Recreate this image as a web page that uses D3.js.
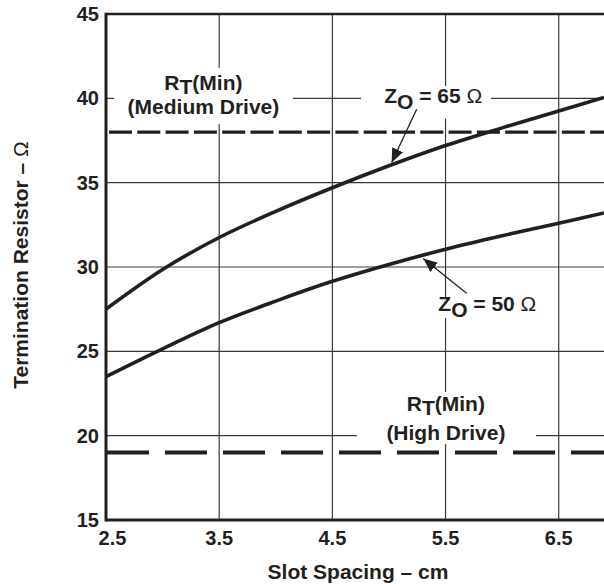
<!DOCTYPE html>
<html>
<head>
<meta charset="utf-8">
<script src="https://cdn.jsdelivr.net/npm/d3@7"></script>
<style>
  html, body { margin: 0; padding: 0; background: #fff; }
  svg { display: block; }
  text { font-family: "Liberation Sans", Arial, Helvetica, sans-serif; fill: #231f20; }
</style>
</head>
<body>
<svg id="chart" width="604" height="584"></svg>
<script>
// ---------- data ----------
const slotSpacing = [2.5, 3.0, 3.5, 4.0, 4.5, 5.0, 5.5, 6.0, 6.5, 6.9];
const z65Values   = [27.5, 29.85, 31.75, 33.3, 34.7, 36.0, 37.2, 38.25, 39.25, 40.05];
const z50Values   = [23.5, 25.15, 26.7, 27.98, 29.15, 30.15, 31.05, 31.85, 32.6, 33.2];
const xTickValues = [2.5, 3.5, 4.5, 5.5, 6.5];
const xTickLabels = ["2.5", "3.5", "4.5", "5.5", "6.5"];
const yTickValues = [15, 20, 25, 30, 35, 40, 45];
const yTickLabels = ["15", "20", "25", "30", "35", "40", "45"];
const rtMinMedium = 38;   // RT(Min) Medium Drive
const rtMinHigh   = 19;   // RT(Min) High Drive
const xTitle = "Slot Spacing – cm";
const yTitle = "Termination Resistor – ";

// ---------- layout ----------
const svg = d3.select("#chart");
const pL = 106, pR = 604, pT = 14, pB = 520;
const x = d3.scaleLinear().domain([2.5, 6.9]).range([pL, pR]);
const y = d3.scaleLinear().domain([15, 45]).range([pB, pT]);
const ink = "#231f20";

// ---------- grid ----------
const grid = svg.append("g");
grid.selectAll("line.v").data(xTickValues.slice(1)).join("line")
  .attr("x1", d => x(d)).attr("x2", d => x(d))
  .attr("y1", pT).attr("y2", pB)
  .attr("stroke", "#3a3a3a").attr("stroke-width", 1.2);
grid.selectAll("line.h").data(yTickValues.slice(1, -1)).join("line")
  .attr("x1", pL).attr("x2", pR)
  .attr("y1", d => y(d)).attr("y2", d => y(d))
  .attr("stroke", "#3a3a3a").attr("stroke-width", 1.2);

// ---------- label masks (white boxes that break the grid) ----------
const masks = svg.append("g");
function mask(x0, x1, y0, y1) {
  masks.append("rect")
    .attr("x", x(x0)).attr("y", y(y1))
    .attr("width", x(x1) - x(x0)).attr("height", y(y0) - y(y1))
    .attr("fill", "#fff");
}
mask(2.571, 4.152, 38.48, 41.8);   // medium-drive label
mask(4.753, 5.901, 38.8, 40.73);   // Z0 = 65
mask(4.717, 6.299, 19.51, 22.59);  // high-drive label
mask(5.415, 6.334, 26.98, 28.16);  // Z0 = 50

// ---------- frame ----------
svg.append("line").attr("x1", pL).attr("x2", pR).attr("y1", pT).attr("y2", pT)
  .attr("stroke", ink).attr("stroke-width", 2.5);
svg.append("line").attr("x1", pL).attr("x2", pL).attr("y1", pT - 1.25).attr("y2", pB + 1.5)
  .attr("stroke", ink).attr("stroke-width", 3);
svg.append("line").attr("x1", pL).attr("x2", pR).attr("y1", pB).attr("y2", pB)
  .attr("stroke", ink).attr("stroke-width", 3);

// ---------- tick labels ----------
svg.append("g").selectAll("text").data(yTickValues).join("text")
  .attr("x", 99).attr("y", d => y(d) + 7)
  .attr("text-anchor", "end").attr("font-size", 20).attr("font-weight", "bold")
  .text((d, i) => yTickLabels[i]);
svg.append("g").selectAll("text").data(xTickValues).join("text")
  .attr("x", (d, i) => x(d) + (i === 0 ? 6.5 : 0)).attr("y", 545)
  .attr("text-anchor", "middle").attr("font-size", 20).attr("font-weight", "bold")
  .text((d, i) => xTickLabels[i]);

// ---------- axis titles ----------
svg.append("text").attr("x", 358).attr("y", 579)
  .attr("text-anchor", "middle").attr("font-size", 21).attr("font-weight", "bold")
  .text(xTitle);
const yt = svg.append("text").attr("transform", "translate(28,265) rotate(-90)")
  .attr("text-anchor", "middle").attr("font-size", 21).attr("font-weight", "bold");
yt.append("tspan").text(yTitle);
yt.append("tspan").attr("font-weight", "normal").text("Ω");

// ---------- RT(Min) dashed lines ----------
svg.append("line").attr("x1", pL + 3).attr("x2", pR).attr("y1", y(rtMinMedium)).attr("y2", y(rtMinMedium))
  .attr("stroke", ink).attr("stroke-width", 3.2).attr("stroke-dasharray", "23 5.3");
svg.append("line").attr("x1", pL + 1).attr("x2", pR).attr("y1", y(rtMinHigh)).attr("y2", y(rtMinHigh))
  .attr("stroke", ink).attr("stroke-width", 4).attr("stroke-dasharray", "42 16");

// ---------- curves ----------
const line = d3.line().x(d => x(d[0])).y(d => y(d[1])).curve(d3.curveCatmullRom.alpha(0.5));
[z65Values, z50Values].forEach(vals => {
  svg.append("path").datum(slotSpacing.map((s, i) => [s, vals[i]]))
    .attr("d", line).attr("fill", "none").attr("stroke", ink)
    .attr("stroke-width", 3.6).attr("stroke-linejoin", "round");
});

// ---------- annotations ----------
function twoLine(cx, y1v, y2v, line2) {
  const t1 = svg.append("text").attr("x", x(cx)).attr("y", y(y1v))
    .attr("text-anchor", "middle").attr("font-size", 21).attr("font-weight", "bold");
  t1.append("tspan").text("R");
  t1.append("tspan").attr("dy", 4).text("T");
  t1.append("tspan").attr("dy", -4).text("(Min)");
  svg.append("text").attr("x", x(cx)).attr("y", y(y2v))
    .attr("text-anchor", "middle").attr("font-size", 21).attr("font-weight", "bold")
    .text(line2);
}
twoLine(3.361, 40.52, 39.05, "(Medium Drive)");
twoLine(5.503, 21.46, 19.72, "(High Drive)");

function zLabel(xs, yv, num) {
  const t = svg.append("text").attr("x", x(xs)).attr("y", y(yv))
    .attr("font-size", 21).attr("font-weight", "bold");
  t.append("tspan").text("Z");
  t.append("tspan").attr("dy", 6).text("O");
  t.append("tspan").attr("dy", -6).text(" = " + num + " ");
  t.append("tspan").attr("font-weight", "normal").text("Ω");
}
zLabel(4.958, 39.71, 65);
zLabel(5.436, 27.41, 50);

// arrows
const defs = svg.append("defs");
defs.append("marker").attr("id", "ah").attr("viewBox", "0 0 14 12")
  .attr("refX", 14).attr("refY", 6).attr("markerWidth", 14).attr("markerHeight", 12)
  .attr("markerUnits", "userSpaceOnUse").attr("orient", "auto")
  .append("path").attr("d", "M0,0 L14,6 L0,12 Z").attr("fill", ink);
function arrow(x0, y0, x1, y1) {
  svg.append("line").attr("x1", x(x0)).attr("y1", y(y0)).attr("x2", x(x1)).attr("y2", y(y1))
    .attr("stroke", ink).attr("stroke-width", 1.3).attr("marker-end", "url(#ah)");
}
arrow(5.245, 39.35, 5.024, 36.2);
arrow(5.686, 28.44, 5.303, 30.5);
</script>
</body>
</html>
